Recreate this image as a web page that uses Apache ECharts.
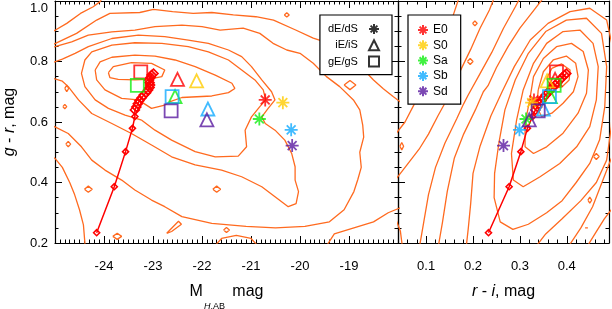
<!DOCTYPE html>
<html><head><meta charset="utf-8">
<script src="https://cdn.jsdelivr.net/npm/echarts@6/dist/echarts.min.js"></script>
<style>html,body{margin:0;padding:0;background:#fff}#c{width:612px;height:309px}</style>
</head><body><div id="c"></div>
<script>
// ---------------- data ----------------
const types = ['E0','S0','Sa','Sb','Sd'];
const classes = ['dE/dS','iE/iS','gE/gS'];
const xTicksLeft = [-24,-23,-22,-21,-20,-19];
const xTicksRight = [0.1,0.2,0.3,0.4];
const yTicks = [0.2,0.4,0.6,0.8,1.0];

// dwarf (asterisk), intermediate (triangle), giant (square)
const dwarfMH = [-20.71,-20.35,-20.83,-20.18,-20.16];
const dwarfGR = [0.673,0.664,0.610,0.574,0.522];
const dwarfRI = [0.330,0.325,0.313,0.299,0.265];
const interMH = [-22.50,-22.11,-22.55,-21.88,-21.90];
const interGR = [0.741,0.736,0.684,0.643,0.607];
const interRI = [0.375,0.358,0.365,0.350,0.320];
const giantMH = [-23.25,null,-23.32,-22.61,-22.63];
const giantGR = [0.766,null,0.721,0.684,0.637];
const giantRI = [0.378,null,0.373,0.363,0.339];

// red model track
const trackGR = [0.234,0.386,0.502,0.579,0.618,0.640,0.650,0.660,0.670,0.680,0.689,0.697,0.706,0.714,0.722,0.730,0.739,0.747,0.755,0.760];
const trackMH = [-24.15,-23.79,-23.56,-23.42,-23.37,-23.37,-23.34,-23.31,-23.28,-23.23,-23.19,-23.14,-23.10,-23.07,-23.06,-23.07,-23.08,-23.05,-23.03,-22.99];
const trackRI = [0.233,0.277,0.302,0.316,0.327,0.333,0.337,0.341,0.346,0.350,0.355,0.360,0.365,0.370,0.375,0.380,0.385,0.390,0.395,0.399];

// left panel contours (M_H, g-r)
const lc1 = [[-25.3,0.88],[-24.99,0.904],[-24.76,0.926],[-24.48,0.959],[-24.22,0.981],[-24.08,0.998],[-24.0,1.02]];
const lc2 = [[-25.3,0.84],[-24.99,0.86],[-24.56,0.893],[-24.15,0.937],[-23.88,0.959],[-23.27,0.962],[-22.99,0.972],[-22.6,0.965],[-22.18,0.959],[-21.8,0.962],[-21.36,0.954],[-20.9,0.948],[-20.54,0.937],[-20.1,0.905],[-19.73,0.877],[-19.4,0.86],[-19.05,0.827],[-18.8,0.79],[-18.50,0.739],[-18.3,0.71],[-18.1,0.684],[-17.9,0.66]];
const lc2b = [[-25.3,0.50],[-25.0,0.48],[-24.85,0.45],[-24.7,0.40],[-24.6,0.36],[-24.5,0.31],[-24.42,0.26],[-24.38,0.18]];
const lc3 = [[-25.3,0.84],[-25.0,0.849],[-24.66,0.865],[-24.32,0.887],[-23.84,0.898],[-23.37,0.904],[-22.96,0.915],[-22.41,0.92],[-22.0,0.915],[-21.63,0.904],[-21.16,0.91],[-20.82,0.893],[-20.55,0.860],[-20.27,0.838],[-20.0,0.827],[-19.73,0.794],[-19.46,0.750],[-19.19,0.717],[-18.91,0.673],[-18.78,0.640],[-18.72,0.59],[-18.7,0.55],[-18.78,0.5],[-18.75,0.45],[-18.82,0.41],[-18.9,0.37],[-19.1,0.31],[-19.4,0.27],[-19.9,0.255],[-20.5,0.25],[-21.1,0.255],[-21.8,0.265],[-22.41,0.287],[-22.76,0.320],[-23.03,0.342],[-23.37,0.375],[-23.64,0.408],[-23.98,0.441],[-24.25,0.474],[-24.46,0.518],[-24.73,0.562],[-25.0,0.584],[-25.3,0.60]];
const lc4 = [[-21.46,0.838],[-21.87,0.860],[-22.28,0.871],[-22.76,0.882],[-23.30,0.887],[-23.84,0.876],[-24.32,0.849],[-24.59,0.827],[-24.85,0.808],[-25.05,0.796],[-25.05,0.745],[-24.85,0.735],[-24.73,0.717],[-24.52,0.673],[-24.25,0.628],[-23.84,0.595],[-23.44,0.562],[-23.03,0.524],[-22.62,0.485],[-22.14,0.458],[-21.60,0.441],[-21.19,0.419],[-20.78,0.386],[-20.51,0.353],[-20.24,0.320],[-20.08,0.33],[-20.03,0.37],[-20.10,0.408],[-20.10,0.452],[-20.17,0.496],[-20.31,0.540],[-20.51,0.573],[-20.71,0.595],[-20.78,0.617],[-20.65,0.645],[-20.51,0.673],[-20.58,0.700],[-20.78,0.739],[-20.99,0.783],[-21.19,0.816],[-21.46,0.838]];
const lc5 = [[-23.23,0.606],[-22.96,0.573],[-22.62,0.540],[-22.14,0.502],[-21.73,0.485],[-21.26,0.487],[-21.09,0.518],[-21.12,0.573],[-20.99,0.617],[-20.82,0.651],[-20.70,0.673],[-20.75,0.706],[-20.92,0.739],[-21.19,0.772],[-21.46,0.805],[-21.87,0.832],[-22.28,0.849],[-22.82,0.860],[-23.37,0.862],[-23.84,0.854],[-24.25,0.832],[-24.39,0.805],[-24.46,0.761],[-24.39,0.717],[-24.18,0.673],[-23.91,0.645],[-23.57,0.623],[-23.23,0.606]];
const lc6 = [[-24.18,0.772],[-24.08,0.799],[-23.84,0.814],[-23.37,0.821],[-22.96,0.818],[-22.55,0.805],[-22.14,0.783],[-21.73,0.755],[-21.39,0.728],[-21.33,0.711],[-21.46,0.697],[-21.80,0.686],[-22.41,0.681],[-22.65,0.667],[-22.76,0.656],[-23.03,0.645],[-23.30,0.673],[-23.64,0.678],[-23.98,0.706],[-24.15,0.739],[-24.18,0.772]];
const lc7 = [[-23.91,0.763],[-23.81,0.783],[-23.44,0.796],[-23.03,0.794],[-22.76,0.772],[-22.82,0.750],[-23.10,0.741],[-23.37,0.739],[-23.71,0.741],[-23.88,0.747],[-23.91,0.763]];
const lc8 = [[-19.5,0.18],[-19.3,0.23],[-18.9,0.25],[-18.5,0.27],[-18.2,0.3],[-17.9,0.32]];
const lc9 = [[-21.8,0.18],[-21.6,0.215],[-21.3,0.225],[-21.0,0.215],[-20.8,0.18]];
const li1 = [[-24.78,0.527],[-24.73,0.536],[-24.68,0.527],[-24.73,0.518],[-24.78,0.527]];
const li2 = [[-24.40,0.378],[-24.32,0.388],[-24.24,0.378],[-24.32,0.368],[-24.40,0.378]];
const li3 = [[-21.78,0.378],[-21.70,0.388],[-21.62,0.378],[-21.70,0.368],[-21.78,0.378]];
const li4 = [[-21.56,0.243],[-21.50,0.251],[-21.44,0.243],[-21.50,0.235],[-21.56,0.243]];
const li5 = [[-19.10,0.722],[-18.98,0.737],[-18.86,0.722],[-18.98,0.707],[-19.10,0.722]];
const li6 = [[-20.32,0.954],[-20.27,0.961],[-20.22,0.954],[-20.27,0.947],[-20.32,0.954]];
const li7 = [[-24.80,0.711],[-24.76,0.722],[-24.72,0.711],[-24.76,0.700],[-24.80,0.711]];
const li8 = [[-24.84,0.651],[-24.80,0.658],[-24.76,0.651],[-24.80,0.644],[-24.84,0.651]];
const li9 = [[-23.82,0.222],[-23.73,0.232],[-23.64,0.222],[-23.73,0.212],[-23.82,0.222]];
const li10 = [[-22.72,0.232],[-22.48,0.272],[-22.42,0.262],[-22.62,0.238],[-22.72,0.232]];

// right panel contours (r-i, g-r)
const rc1 = [[0.357,0.744],[0.368,0.777],[0.389,0.792],[0.407,0.772],[0.405,0.739],[0.389,0.715],[0.368,0.711],[0.357,0.744]];
const rc2 = [[0.339,0.706],[0.350,0.766],[0.371,0.805],[0.399,0.818],[0.419,0.794],[0.424,0.750],[0.414,0.700],[0.392,0.662],[0.368,0.629],[0.346,0.618],[0.336,0.651],[0.339,0.706]];
const rc3 = [[0.321,0.673],[0.329,0.750],[0.350,0.810],[0.378,0.849],[0.410,0.860],[0.435,0.833],[0.446,0.772],[0.442,0.695],[0.424,0.629],[0.392,0.563],[0.357,0.518],[0.329,0.496],[0.311,0.518],[0.311,0.596],[0.321,0.673]];
const rc4 = [[0.293,0.607],[0.307,0.706],[0.329,0.794],[0.357,0.860],[0.392,0.899],[0.428,0.904],[0.456,0.860],[0.467,0.783],[0.463,0.673],[0.449,0.585],[0.421,0.518],[0.385,0.463],[0.343,0.419],[0.307,0.386],[0.286,0.408],[0.282,0.496],[0.293,0.607]];
const rc5 = [[0.255,0.529],[0.268,0.640],[0.290,0.739],[0.318,0.827],[0.355,0.899],[0.399,0.937],[0.442,0.943],[0.474,0.893],[0.485,0.783],[0.481,0.651],[0.470,0.541],[0.449,0.463],[0.420,0.400],[0.390,0.340],[0.357,0.300],[0.318,0.262],[0.285,0.245],[0.258,0.270],[0.245,0.350],[0.246,0.430],[0.255,0.529]];
const rc6 = [[0.185,0.18],[0.19,0.25],[0.195,0.33],[0.200,0.43],[0.215,0.52],[0.238,0.62],[0.262,0.70],[0.288,0.783],[0.322,0.871],[0.360,0.926],[0.407,0.965],[0.449,0.976],[0.485,0.937],[0.499,0.838],[0.500,0.717],[0.495,0.585],[0.485,0.474],[0.463,0.40],[0.43,0.34],[0.39,0.28],[0.355,0.23],[0.33,0.18]];
const rc7 = [[0.125,0.18],[0.135,0.27],[0.145,0.37],[0.16,0.48],[0.18,0.56],[0.205,0.64],[0.222,0.70],[0.232,0.72],[0.25,0.78],[0.275,0.85],[0.30,0.91],[0.33,0.97],[0.35,1.01]];
const rc7b = [[0.40,0.18],[0.43,0.25],[0.455,0.32],[0.475,0.40],[0.49,0.46],[0.50,0.5]];
const rc8 = [[0.085,0.18],[0.095,0.27],[0.105,0.36],[0.12,0.45],[0.14,0.53],[0.165,0.61],[0.18,0.66],[0.19,0.69],[0.215,0.76],[0.24,0.83],[0.265,0.91],[0.29,0.98],[0.30,1.01]];
const rc8b = [[0.44,0.18],[0.46,0.23],[0.48,0.28],[0.50,0.32]];
const rc9 = [[0.03,0.40],[0.06,0.46],[0.085,0.51],[0.105,0.56],[0.125,0.62],[0.15,0.69],[0.17,0.76],[0.195,0.84],[0.215,0.91],[0.235,0.97],[0.245,1.01]];
const rc9b = [[0.03,0.30],[0.045,0.24],[0.05,0.18]];
const rc10 = [[0.03,0.55],[0.055,0.6],[0.075,0.66],[0.095,0.73],[0.115,0.8],[0.135,0.87],[0.155,0.94],[0.17,1.01]];
const ri1 = [[0.188,0.80],[0.194,0.81],[0.200,0.80],[0.194,0.79],[0.188,0.80]];
const ri2 = [[0.044,0.52],[0.048,0.532],[0.052,0.52],[0.048,0.508],[0.044,0.52]];
const ri3 = [[0.457,0.486],[0.463,0.496],[0.469,0.486],[0.463,0.476],[0.457,0.486]];
const ri4 = [[0.445,0.342],[0.449,0.352],[0.453,0.342],[0.449,0.332],[0.445,0.342]];
const ri5 = [[0.199,0.926],[0.204,0.934],[0.209,0.926],[0.204,0.918],[0.199,0.926]];
const ri6 = [[0.439,0.25],[0.442,0.256],[0.445,0.25],[0.442,0.244],[0.439,0.25]];

// ---------------- styling ----------------
const ORANGE = '#ff6a1f';
const typeColors = ['#ff0000','#ffcc00','#11ee11','#11aaff','#5a1aa0'];
const FONT = 'Liberation Sans, Helvetica, Arial, sans-serif';
const ASTER = 'path://M0,5L10,5M5,0L5,10M1.6,1.6L8.4,8.4M8.4,1.6L1.6,8.4';

const leftContours = [lc1,lc2,lc2b,lc3,lc4,lc5,lc6,lc7,lc8,lc9,li1,li2,li3,li4,li5,li6,li7,li8,li9,li10];
const rightContours = [rc1,rc2,rc3,rc4,rc5,rc6,rc7,rc7b,rc8,rc8b,rc9,rc9b,rc10,ri1,ri2,ri3,ri4,ri5,ri6];

function contourSeries(d, xi, yi){
  return {type:'line', data:d, xAxisIndex:xi, yAxisIndex:yi, symbol:'none', showSymbol:false,
    lineStyle:{color:ORANGE,width:1.3}, silent:true, clip:true, z:2, animation:false};
}
function trackSeries(xs, ys, xi, yi){
  return {type:'line', data: xs.map((x,i)=>[x,ys[i]]), xAxisIndex:xi, yAxisIndex:yi,
    symbol:'diamond', symbolSize:(v,p)=> p.dataIndex>=5 ? 9 : 6, showSymbol:true, showAllSymbol:true,
    itemStyle:{color:'rgba(255,255,255,0)', borderColor:'#ff0000', borderWidth:1.6},
    lineStyle:{color:'#ff0000', width:1.5}, silent:true, clip:true, z:3, animation:false};
}
function markerSeries(name, symbol, size, xs, ys, xi, yi){
  const d = [];
  xs.forEach((x,i)=>{ if(x!==null) d.push({value:[x,ys[i]], itemStyle:{borderColor:typeColors[i]}}); });
  return {type:'scatter', name, data:d, xAxisIndex:xi, yAxisIndex:yi, symbol, symbolSize:size,
    itemStyle:{color:'rgba(0,0,0,0)', borderColor:'#000', borderWidth:1.8}, silent:true, z:4, animation:false};
}

const series = [];
leftContours.forEach(c=>series.push(contourSeries(c,0,0)));
rightContours.forEach(c=>series.push(contourSeries(c,2,2)));
series.push(trackSeries(trackMH, trackGR, 0, 0));
series.push(trackSeries(trackRI, trackGR, 2, 2));
series.push(markerSeries(classes[0], ASTER, 13, dwarfMH, dwarfGR, 0, 0));
series.push(markerSeries(classes[1], 'triangle', 13, interMH, interGR, 0, 0));
series.push(markerSeries(classes[2], 'rect', 13, giantMH, giantGR, 0, 0));
series.push(markerSeries(classes[0], ASTER, 13, dwarfRI, dwarfGR, 2, 2));
series.push(markerSeries(classes[1], 'triangle', 13, interRI, interGR, 2, 2));
series.push(markerSeries(classes[2], 'rect', 13, giantRI, giantGR, 2, 2));
// legend-only entries for morphological types
types.forEach((t,i)=>series.push({type:'scatter', name:t, data:[], xAxisIndex:0, yAxisIndex:0,
  symbol:ASTER, itemStyle:{color:'rgba(0,0,0,0)', borderColor:typeColors[i], borderWidth:1.8}}));
series.push({type:'scatter', data:[], xAxisIndex:4, yAxisIndex:4});

const line = {show:true, onZero:false, lineStyle:{color:'#000', width:1.2}};
const tick = (len, extra) => Object.assign({show:true, inside:true, length:len, lineStyle:{color:'#000', width:1}}, extra||{});
const minor = n => ({show:true, splitNumber:n, length:3.5, lineStyle:{color:'#000', width:1}});
const lbl = {color:'#000', fontSize:13, fontFamily:FONT};

const xAxes = [
  {gridIndex:0, type:'value', position:'bottom', min:-25, max:-18, interval:1, axisLine:line, splitLine:{show:false},
   axisTick:tick(7), minorTick:minor(10),
   axisLabel:Object.assign({margin:17, customValues:xTicksLeft, formatter:v=>String(v)}, lbl),
   name:'{m|M}{si|H}{s|,AB}{m| mag}', nameLocation:'middle', nameGap:40, nameMoveOverlap:false,
   nameTextStyle:{rich:{
     m:{fontSize:16, fontFamily:FONT, color:'#000', lineHeight:18},
     si:{fontSize:9, fontStyle:'italic', fontFamily:FONT, color:'#000', lineHeight:11, padding:[29,0,0,1]},
     s:{fontSize:9, fontFamily:FONT, color:'#000', lineHeight:11, padding:[29,3,0,0]}}}},
  {gridIndex:0, type:'value', position:'top', min:-25, max:-18, interval:1, axisLine:line, splitLine:{show:false},
   axisTick:tick(7), minorTick:minor(10), axisLabel:{show:false}},
  {gridIndex:1, type:'value', position:'bottom', min:0.04, max:0.49, interval:0.02, axisLine:line, splitLine:{show:false},
   axisTick:tick(3.5),
   axisLabel:Object.assign({margin:17, customValues:xTicksRight, formatter:v=>v.toFixed(1)}, lbl),
   name:'{i|r}{n| - }{i|i}{n|, mag}', nameLocation:'middle', nameGap:41, nameMoveOverlap:false,
   nameTextStyle:{rich:{
     i:{fontSize:16, fontStyle:'italic', fontFamily:FONT, color:'#000'},
     n:{fontSize:16, fontFamily:FONT, color:'#000'}}}},
  {gridIndex:1, type:'value', position:'top', min:0.04, max:0.49, interval:0.02, axisLine:line, splitLine:{show:false},
   axisTick:tick(3.5), axisLabel:{show:false}},
  {gridIndex:2, type:'value', position:'bottom', min:0.04, max:0.49, axisLine:{show:false}, splitLine:{show:false},
   axisTick:tick(7,{customValues:xTicksRight}), axisLabel:{show:false}},
  {gridIndex:2, type:'value', position:'top', min:0.04, max:0.49, axisLine:{show:false}, splitLine:{show:false},
   axisTick:tick(7,{customValues:xTicksRight}), axisLabel:{show:false}}
];
const yAxes = [
  {gridIndex:0, type:'value', position:'left', min:0.2, max:1.0, interval:0.2, axisLine:line, splitLine:{show:false},
   axisTick:tick(7), minorTick:minor(4),
   axisLabel:Object.assign({margin:7, customValues:yTicks,
     formatter:v=> Math.abs(v-1)<1e-6 ? '{t|1.0}' : v.toFixed(1),
     rich:{t:{fontSize:13, fontFamily:FONT, color:'#000', padding:[14,0,0,0]}}}, lbl),
   name:'{i|g}{n| - }{i|r}{n|, mag}', nameLocation:'middle', nameGap:37, nameRotate:90, nameMoveOverlap:false,
   nameTextStyle:{rich:{
     i:{fontSize:16, fontStyle:'italic', fontFamily:FONT, color:'#000'},
     n:{fontSize:16, fontFamily:FONT, color:'#000'}}}},
  {gridIndex:0, type:'value', position:'right', min:0.2, max:1.0, interval:0.2, axisLine:line, splitLine:{show:false},
   axisTick:tick(7), minorTick:minor(4), axisLabel:{show:false}},
  {gridIndex:1, type:'value', position:'left', min:0.2, max:1.0, interval:0.2, axisLine:line, splitLine:{show:false},
   axisTick:tick(7), minorTick:minor(4), axisLabel:{show:false}},
  {gridIndex:1, type:'value', position:'right', min:0.2, max:1.0, interval:0.2, axisLine:line, splitLine:{show:false},
   axisTick:tick(7), minorTick:minor(4), axisLabel:{show:false}},
  {gridIndex:2, type:'value', min:0.2, max:1.0, show:false}
];

const chart = echarts.init(document.getElementById('c'), null, {renderer:'canvas'});
chart.setOption({
  animation:false,
  backgroundColor:'#fff',
  grid:[
    {left:55, top:1, width:343, height:242, outerBoundsMode:'none', containLabel:false},
    {left:398, top:1, width:211, height:242, outerBoundsMode:'none', containLabel:false},
    {left:398, top:1, width:211, height:242, outerBoundsMode:'none', containLabel:false}
  ],
  xAxis:xAxes, yAxis:yAxes,
  legend:[
    {data:classes, orient:'vertical', align:'right', right:220, top:15, itemWidth:10, itemHeight:10, itemGap:4.3,
     padding:[8,12,7,8], borderColor:'#000', borderWidth:1.2, backgroundColor:'#fff', selectedMode:false,
     formatter:n=>n+'  ',
     textStyle:{color:'#000', fontSize:11, lineHeight:11, fontFamily:FONT}},
    {data:types, orient:'vertical', left:408, top:15, itemWidth:10, itemHeight:10, itemGap:3.3,
     padding:[9,13,7,9], borderColor:'#000', borderWidth:1.2, backgroundColor:'#fff', selectedMode:false,
     textStyle:{color:'#000', fontSize:12, lineHeight:12, fontFamily:FONT}}
  ],
  series
});
</script></body></html>
